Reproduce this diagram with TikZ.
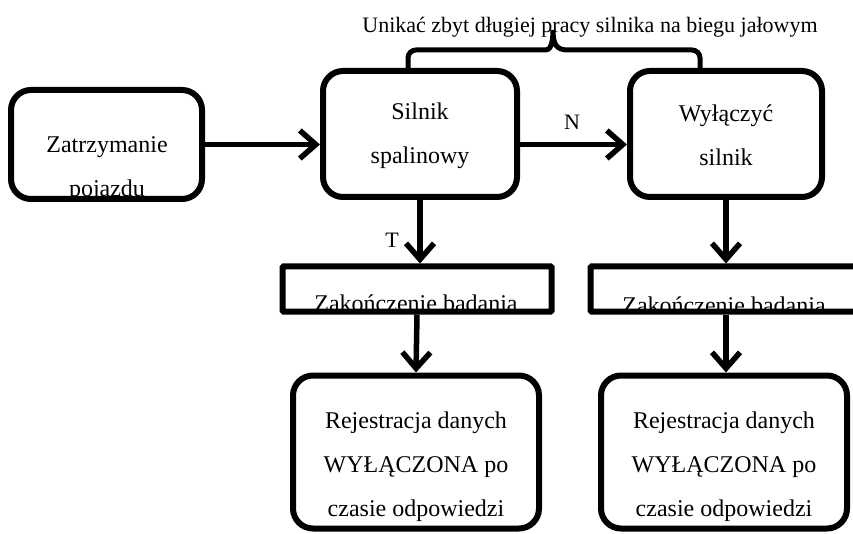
\documentclass[tikz,border=0pt]{standalone}
\usepackage{fontspec}
\setmainfont{Liberation Serif}
\usetikzlibrary{arrows.meta}

\begin{document}
\begin{tikzpicture}[x=1pt, y=-1pt,
        box/.style={draw, line width=6pt, rounded corners=20pt, inner sep=0pt},
        bar/.style={draw, line width=6pt, rounded corners=1pt, inner sep=0pt},
        txt/.style={align=center, inner sep=0pt, font=\fontsize{24}{44}\selectfont},
        lbl/.style={inner sep=0pt, font=\fontsize{22}{26}\selectfont},
        flow/.style={line width=5.5pt, -{Straight Barb[length=16pt, width=28pt]}}]
        \useasboundingbox (0, 0) rectangle (853, 534);
        \clip (0, 0) rectangle (853, 534);

        % texts first, the frames go over them
        \node[txt] (stopT) at (107, 169.4) {Zatrzymanie\\pojazdu};
        \node[txt] (engineT) at (420, 135.4) {Silnik\\spalinowy};
        \node[txt] (offT) at (726, 135.4) {Wyłączyć\\silnik};
        \node[txt, anchor=base] (end1T) at (416, 312) {Zakończenie badania};
        \node[txt, anchor=base] (end2T) at (724, 313) {Zakończenie badania};
        \node[txt] (rec1T) at (416, 466.4) {Rejestracja danych\\WYŁĄCZONA po\\czasie odpowiedzi};
        \node[txt] (rec2T) at (724, 466.4) {Rejestracja danych\\WYŁĄCZONA po\\czasie odpowiedzi};

        % frames
        \node[box, minimum width=191pt, minimum height=109pt] (stop) at (106.5, 144.5) {};
        \node[box, minimum width=194pt, minimum height=126pt] (engine) at (420, 134) {};
        \node[box, minimum width=192pt, minimum height=126pt] (off) at (726, 134) {};
        \node[bar, minimum width=269pt, minimum height=45pt] (end1) at (417, 289) {};
        \node[bar, minimum width=273pt, minimum height=45pt] (end2) at (727, 289) {};
        \node[box, minimum width=246pt, minimum height=153pt] (rec1) at (416, 452) {};
        \node[box, minimum width=246pt, minimum height=153pt] (rec2) at (724, 452) {};

        % arrows
        \draw[flow] (stop.east) -- (stop.east -| engine.west);
        \draw[flow] (engine.east |- stop.east) -- (off.west |- stop.east);
        \draw[flow] (engine.south) -- (engine.south |- end1.north);
        \draw[flow] (end1.south) -- (rec1.north);
        \draw[flow] (off.south) -- (off.south |- end2.north);
        \draw[flow] (off.south |- end2.south) -- (off.south |- rec2.north);
        \node[lbl] (no) at (572, 122) {N};
        \node[lbl] (yes) at (392, 240) {T};

        % brace over both engine states
        \coordinate (braceL) at (408, 70);
        \coordinate (braceR) at (700, 70);
        \draw[line width=5pt] (braceL) [rounded corners=8pt] |- (538, 50) [sharp corners]
            .. controls (550, 50) and (553, 44) .. (553, 30)
            .. controls (553, 44) and (556, 50) .. (568, 50) [rounded corners=8pt] -| (braceR);
        \node[lbl, anchor=base] (idle) at (590, 33) {Unikać zbyt długiej pracy silnika na biegu jałowym};
    \end{tikzpicture}
\end{document}
